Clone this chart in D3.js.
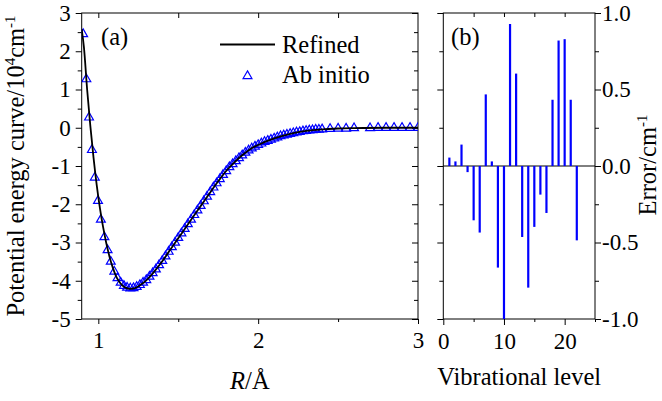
<!DOCTYPE html>
<html><head><meta charset="utf-8">
<script src="https://cdn.jsdelivr.net/npm/d3@7"></script>
<style>body{margin:0;background:#fff}svg{display:block}text{font-family:"Liberation Serif","Times New Roman",serif;fill:#000}</style>
</head><body>
<svg id="c" width="662" height="401"></svg>
<script>
// ---- Data ----
const abR = [0.905,0.925,0.942,0.960,0.978,0.998,1.016,1.038,1.058,1.078,1.100,1.120,1.140,1.160,1.180,1.200,1.220,1.240,1.260,1.280,1.300,1.320,1.340,1.360,1.380,1.400,1.420,1.440,1.460,1.480,1.500,1.520,1.540,1.560,1.580,1.600,1.620,1.640,1.660,1.680,1.700,1.720,1.740,1.760,1.780,1.800,1.820,1.840,1.860,1.880,1.900,1.920,1.940,1.960,1.980,2.000,2.020,2.040,2.060,2.080,2.100,2.120,2.140,2.160,2.180,2.200,2.220,2.240,2.260,2.280,2.300,2.320,2.340,2.360,2.380,2.400,2.45,2.50,2.55,2.60,2.70,2.75,2.80,2.85,2.90,2.95,3.00];
const abE = [2.45,1.27,0.27,-0.58,-1.30,-1.91,-2.40,-2.86,-3.20,-3.50,-3.76,-3.93,-4.05,-4.13,-4.18,-4.20,-4.19,-4.16,-4.11,-4.05,-3.98,-3.89,-3.80,-3.70,-3.59,-3.48,-3.36,-3.24,-3.12,-3.00,-2.88,-2.76,-2.64,-2.52,-2.40,-2.28,-2.16,-2.04,-1.92,-1.80,-1.68,-1.56,-1.45,-1.34,-1.23,-1.13,-1.03,-0.95,-0.87,-0.79,-0.72,-0.65,-0.59,-0.54,-0.49,-0.45,-0.41,-0.37,-0.34,-0.31,-0.28,-0.25,-0.22,-0.20,-0.18,-0.16,-0.14,-0.12,-0.11,-0.09,-0.08,-0.07,-0.06,-0.05,-0.05,-0.04,-0.03,-0.02,-0.02,-0.01,-0.01,0.0,0.0,0.0,0.0,0.0,0.0];
const refR = [0.896,0.91,0.93,0.95,0.97,0.99,1.01,1.03,1.05,1.07,1.09,1.11,1.13,1.15,1.17,1.20,1.23,1.26,1.30,1.35,1.40,1.45,1.50,1.55,1.60,1.65,1.70,1.75,1.80,1.85,1.90,1.95,2.00,2.10,2.20,2.30,2.40,2.50,2.60,2.80,3.00];
const refE = [2.58,2.10,1.00,0.05,-0.78,-1.50,-2.10,-2.60,-3.02,-3.37,-3.65,-3.87,-4.02,-4.12,-4.18,-4.21,-4.19,-4.12,-3.99,-3.76,-3.49,-3.19,-2.89,-2.59,-2.29,-1.99,-1.69,-1.40,-1.13,-0.91,-0.72,-0.56,-0.45,-0.28,-0.16,-0.08,-0.04,-0.02,-0.01,0.0,0.0];
const levels = [1,2,3,4,5,6,7,8,9,10,11,12,13,14,15,16,17,18,19,20,21,22];
const errors = [0.055,0.03,0.14,-0.04,-0.355,-0.435,0.468,0.03,-0.664,-1.0,0.928,0.604,-0.464,-0.795,-0.398,-0.187,-0.307,0.433,0.82,0.829,0.433,-0.486];
const aYTicks = [-5,-4,-3,-2,-1,0,1,2,3];
const aXTicks = [1,2,3];
const bYTicks = [-1.0,-0.5,0.0,0.5,1.0];
const bXTicks = [0,10,20];

// ---- Layout ----
const svg = d3.select("#c");
const A = {l:81.7, r:418, t:13, b:319};
const B = {l:443.3, r:595, t:13, b:319};
const xa = d3.scaleLinear().domain([0.896,3]).range([A.l,A.r]);
const ya = d3.scaleLinear().domain([-5,3]).range([A.b,A.t]);
const xb = d3.scaleLinear().domain([0,25]).range([B.l,B.r]);
const yb = d3.scaleLinear().domain([-1,1]).range([B.b,B.t]);
const TF = 23, TT = 24.5;

function ax(gen, tx, ty){
  const g = svg.append("g").attr("transform",`translate(${tx},${ty})`).call(gen);
  g.select(".domain").remove();
  g.selectAll("line").attr("stroke","#000").attr("stroke-width",1);
  g.selectAll("text").attr("font-size",TF).attr("font-family","Liberation Serif").attr("fill","#000");
  return g;
}
const fmtA = d=>String(d);
const fmtB = d=>d.toFixed(1);
const halfA = d3.range(-4.5,3,1);
const quarterB = [-0.75,-0.25,0.25,0.75];

// panel a axes
ax(d3.axisLeft(ya).tickValues(aYTicks).tickSize(6).tickPadding(5).tickFormat(fmtA), A.l, 0);
ax(d3.axisLeft(ya).tickValues(halfA).tickSize(4).tickFormat(""), A.l, 0);
ax(d3.axisBottom(xa).tickValues(aXTicks).tickSize(5).tickPadding(8).tickFormat(fmtA), 0, A.b);
ax(d3.axisBottom(xa).tickValues([1.5,2.5]).tickSize(3).tickFormat(""), 0, A.b);
ax(d3.axisBottom(xa).tickValues([1,1.5,2,2.5]).tickSize(5).tickFormat(""), 0, A.t);
ax(d3.axisLeft(ya).tickValues(aYTicks).tickSize(6).tickFormat(""), A.r, 0);
ax(d3.axisLeft(ya).tickValues(halfA).tickSize(4).tickFormat(""), A.r, 0);
svg.append("rect").attr("x",A.l).attr("y",A.t).attr("width",A.r-A.l).attr("height",A.b-A.t).attr("fill","none").attr("stroke","#000").attr("stroke-width",1);

// panel b axes
ax(d3.axisLeft(yb).tickValues(bYTicks).tickSize(6).tickFormat(""), B.l, 0);
ax(d3.axisLeft(yb).tickValues(quarterB).tickSize(4).tickFormat(""), B.l, 0);
ax(d3.axisRight(yb).tickValues(bYTicks).tickSize(6).tickPadding(1).tickFormat(fmtB), B.r, 0);
ax(d3.axisRight(yb).tickValues(quarterB).tickSize(4).tickFormat(""), B.r, 0);
ax(d3.axisBottom(xb).tickValues(bXTicks).tickSize(6).tickPadding(8).tickFormat(fmtA), 0, B.b);
ax(d3.axisBottom(xb).tickValues([5,15,25]).tickSize(3).tickFormat(""), 0, B.b);
ax(d3.axisBottom(xb).tickValues([5,10,15,20]).tickSize(4).tickFormat(""), 0, B.t);
svg.append("rect").attr("x",B.l).attr("y",B.t).attr("width",B.r-B.l).attr("height",B.b-B.t).attr("fill","none").attr("stroke","#000").attr("stroke-width",1);

// clip
svg.append("clipPath").attr("id","clipA").append("rect").attr("x",A.l).attr("y",A.t).attr("width",A.r-A.l).attr("height",A.b-A.t);

// ab initio triangles
const tri = d3.symbol().type(d3.symbolTriangle).size(34);
svg.append("g").attr("clip-path","url(#clipA)").selectAll("path").data(abR.map((r,i)=>[r,abE[i]])).join("path")
  .attr("d",tri).attr("transform",d=>`translate(${xa(d[0])},${ya(d[1])})`)
  .attr("fill","none").attr("stroke","#0000ff").attr("stroke-width",1.2);

// refined curve
const line = d3.line().x(d=>xa(d[0])).y(d=>ya(d[1])).curve(d3.curveMonotoneX);
svg.append("path").attr("clip-path","url(#clipA)").datum(refR.map((r,i)=>[r,refE[i]]))
  .attr("d",line).attr("fill","none").attr("stroke","#000").attr("stroke-width",1.8);

// panel b zero line and bars
svg.append("line").attr("x1",B.l).attr("x2",B.r).attr("y1",yb(0)).attr("y2",yb(0)).attr("stroke","#000").attr("stroke-width",1);
svg.append("g").selectAll("line").data(levels.map((l,i)=>[l,errors[i]])).join("line")
  .attr("x1",d=>xb(d[0])).attr("x2",d=>xb(d[0])).attr("y1",yb(0)).attr("y2",d=>yb(d[1]))
  .attr("stroke","#0000ff").attr("stroke-width",2.2);

// labels
svg.append("text").attr("x",101).attr("y",45).attr("font-size",TT).text("(a)");
svg.append("text").attr("x",451).attr("y",45).attr("font-size",TT).text("(b)");

// legend
svg.append("line").attr("x1",220).attr("x2",275).attr("y1",44.5).attr("y2",44.5).attr("stroke","#000").attr("stroke-width",1.8);
svg.append("text").attr("x",282).attr("y",53).attr("font-size",TT).text("Refined");
svg.append("path").attr("d",tri).attr("transform","translate(247.5,76)").attr("fill","none").attr("stroke","#0000ff").attr("stroke-width",1.2);
svg.append("text").attr("x",282).attr("y",83).attr("font-size",TT).text("Ab initio");

// axis titles
const xt = svg.append("text").attr("x",(A.l+A.r)/2).attr("y",389).attr("text-anchor","middle").attr("font-size",TT);
xt.append("tspan").attr("font-style","italic").text("R");
xt.append("tspan").text("/Å");
svg.append("text").attr("x",(B.l+B.r)/2).attr("y",385).attr("text-anchor","middle").attr("font-size",TT).text("Vibrational level");

const yt = svg.append("text").attr("transform","translate(24,166) rotate(-90)").attr("text-anchor","middle").attr("font-size",TT);
yt.append("tspan").text("Potential energy curve/10");
yt.append("tspan").attr("font-size",15).attr("dy",-9).text("4");
yt.append("tspan").attr("dy",9).text("cm");
yt.append("tspan").attr("font-size",15).attr("dy",-9).text("-1");

const yt2 = svg.append("text").attr("transform","translate(656,165) rotate(-90)").attr("text-anchor","middle").attr("font-size",TT);
yt2.append("tspan").text("Error/cm");
yt2.append("tspan").attr("font-size",15).attr("dy",-9).text("-1");
</script>
</body></html>
